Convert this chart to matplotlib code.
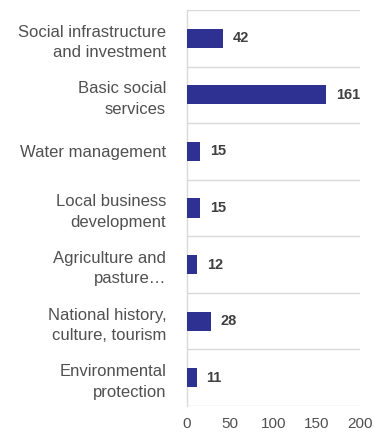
import numpy as np
import matplotlib.pyplot as plt

plt.rcParams['font.family'] = ['Liberation Sans', 'DejaVu Sans']

# Sub-project counts by category
categories = [
    'Social infrastructure\nand investment',
    'Basic social\nservices',
    'Water management',
    'Local business\ndevelopment',
    'Agriculture and\npasture…',
    'National history,\nculture, tourism',
    'Environmental\nprotection',
]
counts = [42, 161, 15, 15, 12, 28, 11]
x_ticks = [0, 50, 100, 150, 200]

bar_color = '#2e3192'
grid_color = '#d9d9d9'
text_color = '#404040'

fig = plt.figure(figsize=(3.74, 4.32), dpi=100)
ax = fig.add_axes([0.5, 0.0602, 0.4626, 0.9167])

y = np.arange(len(categories))
ax.barh(y, counts, height=0.34, color=bar_color, zorder=3)

for yi, v in zip(y, counts):
    ax.annotate(str(v), (v, yi), xytext=(7, 0), textcoords='offset points',
                va='center', ha='left', fontsize=10.5, fontweight='bold',
                color=text_color)

ax.set_xlim(0, 200)
ax.set_ylim(len(categories) - 0.5, -0.5)
ax.set_xticks(x_ticks)
ax.set_yticks(y)
ax.set_yticklabels(categories, fontsize=12, color='#505050')
for lbl in ax.get_yticklabels():
    lbl.set_linespacing(1.45)
ax.tick_params(axis='y', length=0, pad=15)
ax.tick_params(axis='x', length=0, pad=8, labelsize=11, labelcolor='#505050')

# category separators
ax.set_yticks(np.arange(len(categories) + 1) - 0.5, minor=True)
ax.tick_params(axis='y', which='minor', length=0)
ax.grid(axis='y', which='minor', color=grid_color, linewidth=1, zorder=0)

for side in ['top', 'right', 'bottom']:
    ax.spines[side].set_visible(False)
ax.spines['left'].set_color(grid_color)
ax.spines['left'].set_linewidth(1)

plt.savefig('out.png', dpi=100)
